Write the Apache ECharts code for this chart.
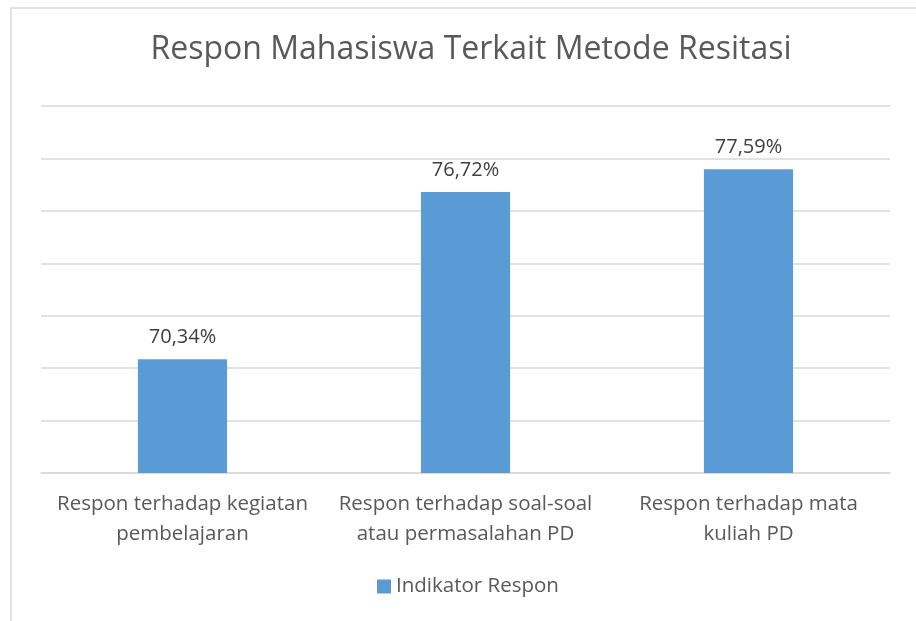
<!DOCTYPE html>
<html>
  <head>
    <meta charset="utf-8" />
    <title>ECharts</title>
    <script src="https://cdn.jsdelivr.net/npm/echarts@6/dist/echarts.min.js"></script>
    <style>
      html, body { margin: 0; padding: 0; background: #fff; }
    </style>
  </head>
  <body>
    <div id="main" style="width: 916px; height: 621px"></div>
    <script type="text/javascript">
      var categories = [
        "Respon terhadap kegiatan\npembelajaran",
        "Respon terhadap soal-soal\natau permasalahan PD",
        "Respon terhadap mata\nkuliah PD",
      ];
      var seriesName = "Indikator Respon";
      var values = [70.34, 76.72, 77.59];

      var font = "Open Sans";
      var textColor = "#595959";

      var myChart = echarts.init(document.getElementById("main"));

      var option = {
        animation: false,
        backgroundColor: "#fff",
        textStyle: { fontFamily: font },
        title: {
          text: "Respon Mahasiswa Terkait Metode Resitasi",
          left: 466,
          textAlign: "center",
          top: 29,
          textStyle: { fontFamily: font, fontSize: 32, fontWeight: "normal", color: textColor },
        },
        legend: {
          data: [seriesName],
          bottom: 19,
          left: 372,
          icon: "rect",
          itemWidth: 14,
          itemHeight: 14,
          itemGap: 6,
          textStyle: { fontFamily: font, fontSize: 20.5, color: textColor },
        },
        grid: { left: 41, right: 26, top: 106, bottom: 148 },
        xAxis: {
          type: "category",
          data: categories,
          axisLine: { lineStyle: { color: "#d9d9d9", width: 1.5 } },
          axisTick: { show: false },
          axisLabel: {
            interval: 0,
            margin: 16,
            lineHeight: 30,
            fontFamily: font,
            fontSize: 20.5,
            color: textColor,
          },
        },
        yAxis: {
          type: "value",
          min: 66,
          max: 80,
          interval: 2,
          axisLabel: { show: false },
          axisLine: { show: false },
          axisTick: { show: false },
          splitLine: { lineStyle: { color: "#d9d9d9", width: 1.5 } },
        },
        series: [
          {
            name: seriesName,
            type: "bar",
            data: values,
            barWidth: "31.5%",
            itemStyle: { color: "#5b9bd5" },
            label: {
              show: true,
              position: "top",
              distance: 12,
              fontFamily: font,
              fontSize: 20,
              color: "#404040",
              formatter: function (p) {
                return p.value.toFixed(2).replace(".", ",") + "%";
              },
            },
          },
        ],
        graphic: [
          {
            type: "rect",
            shape: { x: 11, y: 8, width: 1000, height: 1000 },
            style: { fill: "none", stroke: "#d9d9d9", lineWidth: 1.5 },
            silent: true,
          },
        ],
      };

      myChart.setOption(option);
    </script>
  </body>
</html>
